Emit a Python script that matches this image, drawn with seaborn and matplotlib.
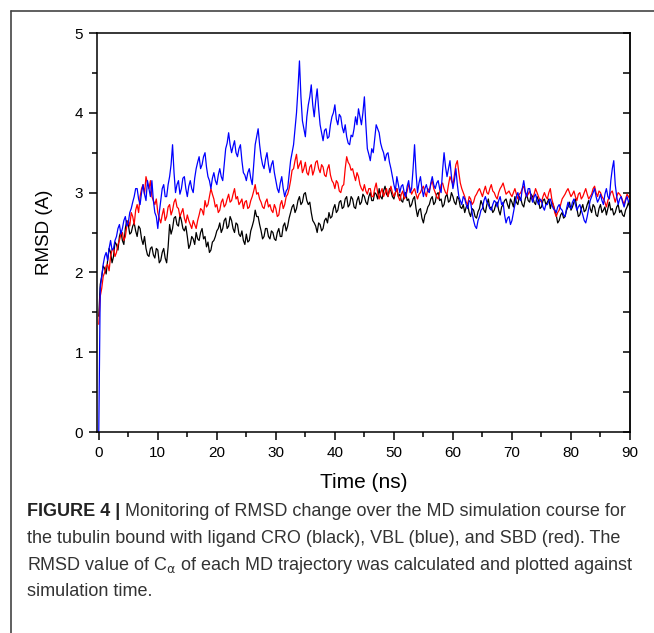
import numpy as np
import pandas as pd
import matplotlib
matplotlib.use('Agg')
import matplotlib.pyplot as plt
from matplotlib.lines import Line2D
from matplotlib.ticker import MultipleLocator
import seaborn as sns

# Tiempo de simulación (ns), un valor cada 0.25 ns
time_ns = np.linspace(0, 90, 361)

# RMSD (A) (filas de 5 ns)
rmsd_cro = [
    1.45, 1.85, 1.95, 2.08, 2.05, 1.98, 2.15, 2.30, 2.25, 2.12, 2.20, 2.38, 2.35, 2.28, 2.45, 2.52, 2.40, 2.35, 2.55, 2.65,
    2.60, 2.48, 2.50, 2.58, 2.62, 2.52, 2.45, 2.58, 2.55, 2.42, 2.35, 2.45, 2.30, 2.22, 2.20, 2.30, 2.32, 2.22, 2.18, 2.30,
    2.28, 2.12, 2.15, 2.25, 2.30, 2.18, 2.12, 2.32, 2.60, 2.48, 2.55, 2.68, 2.70, 2.60, 2.58, 2.72, 2.65, 2.55, 2.52, 2.58,
    2.45, 2.30, 2.35, 2.45, 2.42, 2.35, 2.50, 2.42, 2.40, 2.50, 2.55, 2.42, 2.45, 2.32, 2.38, 2.25, 2.28, 2.38, 2.40, 2.45,
    2.52, 2.55, 2.62, 2.50, 2.55, 2.65, 2.68, 2.55, 2.58, 2.70, 2.65, 2.55, 2.50, 2.62, 2.60, 2.48, 2.45, 2.52, 2.40, 2.35,
    2.48, 2.38, 2.40, 2.52, 2.58, 2.65, 2.78, 2.70, 2.70, 2.60, 2.52, 2.42, 2.45, 2.55, 2.55, 2.45, 2.42, 2.52, 2.50, 2.42,
    2.40, 2.50, 2.55, 2.45, 2.45, 2.58, 2.62, 2.52, 2.58, 2.68, 2.75, 2.82, 2.85, 2.75, 2.80, 2.90, 2.95, 2.85, 2.88, 2.98,
    3.00, 2.90, 2.85, 2.88, 2.75, 2.65, 2.62, 2.58, 2.50, 2.62, 2.60, 2.52, 2.55, 2.65, 2.68, 2.62, 2.75, 2.68, 2.70, 2.80,
    2.85, 2.75, 2.78, 2.88, 2.90, 2.80, 2.82, 2.92, 2.95, 2.82, 2.85, 2.95, 2.92, 2.82, 2.80, 2.90, 2.95, 2.85, 2.88, 2.98,
    2.95, 2.88, 2.85, 2.95, 3.00, 2.90, 2.90, 3.00, 2.98, 2.92, 3.05, 2.95, 2.92, 3.02, 3.08, 2.98, 2.95, 3.05, 3.02, 2.95,
    2.92, 3.00, 3.05, 2.95, 2.98, 2.90, 2.88, 2.98, 3.00, 2.90, 2.92, 2.82, 2.85, 2.92, 2.95, 2.80, 2.70, 2.78, 2.80, 2.68,
    2.62, 2.72, 2.75, 2.82, 2.85, 2.92, 2.95, 2.85, 2.88, 2.98, 3.00, 2.90, 2.92, 2.82, 2.85, 2.95, 2.98, 2.88, 2.90, 3.00,
    2.95, 2.88, 2.85, 2.95, 2.92, 2.82, 2.80, 2.85, 2.75, 2.82, 2.85, 2.75, 2.70, 2.80, 2.78, 2.70, 2.68, 2.76, 2.80, 2.90,
    2.85, 2.78, 2.75, 2.85, 2.92, 2.80, 2.82, 2.75, 2.78, 2.85, 2.88, 2.78, 2.72, 2.82, 2.85, 2.90, 2.92, 2.85, 2.80, 2.92,
    2.88, 2.82, 2.95, 2.88, 2.85, 2.95, 2.92, 2.85, 2.82, 2.92, 2.98, 2.90, 2.88, 2.98, 2.95, 2.88, 2.85, 2.95, 2.90, 2.80,
    2.82, 2.90, 2.92, 2.85, 2.88, 2.92, 2.80, 2.88, 2.85, 2.78, 2.72, 2.62, 2.65, 2.72, 2.75, 2.68, 2.70, 2.78, 2.82, 2.88,
    2.78, 2.82, 2.88, 2.92, 2.80, 2.70, 2.72, 2.80, 2.85, 2.76, 2.78, 2.85, 2.90, 2.80, 2.75, 2.85, 2.82, 2.72, 2.70, 2.80,
    2.85, 2.75, 2.78, 2.82, 2.72, 2.80, 2.88, 2.78, 2.80, 2.72, 2.75, 2.82, 2.85, 2.75, 2.78, 2.72, 2.70, 2.78, 2.82, 2.88,
    2.80,
]

rmsd_sbd = [
    1.35, 1.70, 1.80, 1.95, 2.00, 2.08, 2.10, 2.02, 2.20, 2.28, 2.30, 2.20, 2.25, 2.35, 2.40, 2.48, 2.50, 2.40, 2.45, 2.58,
    2.65, 2.58, 2.75, 2.70, 2.60, 2.78, 2.85, 2.75, 2.95, 3.05, 3.10, 2.98, 3.20, 3.12, 3.05, 3.15, 2.95, 2.90, 2.85, 2.92,
    2.75, 2.68, 2.62, 2.72, 2.80, 2.65, 2.70, 2.82, 2.85, 2.72, 2.78, 2.88, 2.92, 2.82, 2.80, 2.70, 2.75, 2.80, 2.68, 2.62,
    2.72, 2.65, 2.60, 2.55, 2.65, 2.60, 2.55, 2.65, 2.72, 2.80, 2.78, 2.72, 2.90, 2.82, 2.85, 2.95, 3.05, 2.98, 2.92, 2.82,
    2.85, 2.75, 2.78, 2.88, 2.92, 2.82, 2.85, 2.92, 2.98, 2.88, 2.90, 2.98, 3.05, 2.92, 2.95, 2.85, 2.88, 2.92, 2.80, 2.88,
    2.90, 2.80, 2.82, 2.90, 2.95, 3.02, 3.10, 2.98, 3.00, 2.92, 2.88, 2.82, 2.80, 2.88, 2.92, 2.82, 2.85, 2.78, 2.75, 2.85,
    2.80, 2.70, 2.72, 2.85, 2.90, 2.80, 2.85, 2.95, 2.98, 3.05, 3.15, 3.28, 3.30, 3.40, 3.48, 3.30, 3.35, 3.40, 3.25, 3.30,
    3.38, 3.25, 3.22, 3.32, 3.35, 3.22, 3.28, 3.38, 3.40, 3.30, 3.25, 3.35, 3.32, 3.22, 3.20, 3.30, 3.35, 3.22, 3.15, 3.12,
    3.05, 3.15, 3.12, 3.02, 3.00, 3.08, 3.10, 3.30, 3.45, 3.38, 3.35, 3.28, 3.30, 3.22, 3.15, 3.25, 3.20, 3.10, 3.05, 3.02,
    3.10, 3.02, 2.98, 3.05, 3.05, 2.95, 2.95, 3.05, 3.12, 3.00, 2.92, 3.00, 3.05, 2.95, 3.00, 3.05, 2.95, 3.02, 3.08, 3.00,
    2.95, 3.00, 3.05, 2.95, 2.90, 2.98, 3.02, 2.92, 2.95, 3.02, 3.10, 3.05, 2.98, 3.02, 3.05, 2.98, 2.92, 2.98, 3.00, 3.05,
    3.08, 3.00, 2.95, 3.05, 3.02, 3.10, 3.15, 3.05, 3.00, 2.95, 2.92, 3.00, 3.10, 3.12, 3.05, 3.00, 2.98, 3.10, 3.20, 3.15,
    3.10, 3.22, 3.35, 3.40, 3.25, 3.12, 3.05, 3.00, 2.95, 2.88, 2.85, 2.95, 2.92, 2.85, 2.88, 2.95, 2.98, 3.02, 3.05, 3.00,
    2.95, 3.02, 3.08, 3.00, 2.98, 3.05, 3.10, 3.02, 3.00, 2.95, 2.92, 3.00, 3.05, 3.08, 3.12, 3.05, 2.98, 3.00, 3.02, 2.98,
    2.95, 3.00, 3.05, 2.98, 2.92, 2.98, 3.00, 3.05, 3.08, 3.00, 2.95, 2.98, 3.02, 2.95, 2.90, 2.98, 3.05, 3.00, 2.95, 2.90,
    2.88, 2.95, 3.00, 2.95, 2.92, 3.00, 3.05, 2.92, 2.85, 2.75, 2.70, 2.75, 2.78, 2.85, 2.92, 2.95, 2.98, 3.02, 3.05, 3.00,
    2.95, 2.98, 3.02, 2.95, 2.90, 2.98, 3.00, 2.92, 2.95, 3.00, 3.05, 2.98, 2.92, 2.95, 2.98, 3.05, 3.08, 3.00, 2.95, 3.02,
    3.00, 2.95, 2.92, 2.88, 2.82, 2.90, 2.95, 3.00, 3.02, 2.95, 2.88, 2.95, 3.00, 2.98, 2.95, 2.90, 2.85, 2.92, 2.98, 2.95,
    2.92,
]

rmsd_vbl = [
    0.00, 1.80, 1.95, 2.10, 2.20, 2.25, 2.15, 2.30, 2.40, 2.28, 2.30, 2.40, 2.45, 2.55, 2.60, 2.48, 2.55, 2.65, 2.70, 2.58,
    2.62, 2.75, 2.80, 2.88, 2.95, 3.05, 3.05, 2.92, 2.85, 3.00, 3.10, 2.98, 2.90, 3.15, 3.05, 2.95, 3.15, 2.90, 2.75, 2.70,
    2.55, 2.75, 2.90, 3.05, 3.10, 2.95, 2.95, 3.10, 3.20, 3.35, 3.60, 3.25, 3.00, 3.10, 3.15, 2.98, 3.05, 3.18, 3.20, 3.05,
    2.95, 3.08, 3.15, 3.05, 3.00, 3.18, 3.30, 3.38, 3.45, 3.30, 3.35, 3.45, 3.50, 3.32, 3.20, 3.15, 3.05, 3.18, 3.25, 3.15,
    3.10, 3.22, 3.30, 3.20, 3.15, 3.35, 3.55, 3.62, 3.75, 3.60, 3.50, 3.58, 3.65, 3.50, 3.45, 3.55, 3.60, 3.40, 3.25, 3.22,
    3.15, 3.25, 3.30, 3.18, 3.10, 3.35, 3.60, 3.70, 3.80, 3.60, 3.45, 3.35, 3.30, 3.42, 3.50, 3.35, 3.25, 3.35, 3.40, 3.25,
    3.15, 3.05, 3.00, 3.12, 3.20, 3.05, 2.95, 3.02, 3.05, 3.22, 3.40, 3.50, 3.60, 3.80, 4.00, 4.30, 4.65, 4.20, 3.90, 3.80,
    3.70, 3.95, 4.10, 4.20, 4.35, 4.10, 3.95, 4.15, 4.30, 4.05, 3.85, 3.75, 3.65, 3.78, 3.80, 3.68, 3.70, 3.85, 3.95, 4.00,
    4.10, 3.92, 3.85, 3.98, 3.95, 3.82, 3.75, 3.85, 3.70, 3.62, 3.60, 3.72, 3.70, 3.80, 3.95, 3.85, 4.05, 3.95, 3.85, 4.00,
    4.20, 3.85, 3.55, 3.48, 3.40, 3.55, 3.50, 3.68, 3.85, 3.80, 3.75, 3.62, 3.55, 3.50, 3.40, 3.48, 3.50, 3.38, 3.30, 3.20,
    3.10, 3.02, 3.20, 3.10, 3.00, 3.08, 3.10, 3.00, 2.95, 3.08, 3.15, 3.00, 3.05, 3.30, 3.60, 3.25, 3.00, 3.12, 3.20, 3.05,
    2.95, 3.05, 3.10, 3.02, 3.00, 3.12, 3.20, 3.10, 3.05, 3.12, 3.15, 3.05, 3.00, 3.28, 3.50, 3.32, 3.20, 3.30, 3.40, 3.20,
    3.05, 3.15, 3.30, 3.10, 2.95, 2.90, 2.85, 2.95, 2.92, 2.85, 2.80, 2.90, 2.88, 2.75, 2.65, 2.58, 2.55, 2.65, 2.70, 2.78,
    2.80, 2.90, 2.95, 2.88, 2.85, 2.80, 2.78, 2.85, 2.90, 2.88, 2.82, 2.90, 2.95, 2.85, 2.88, 2.72, 2.62, 2.68, 2.70, 2.60,
    2.65, 2.75, 2.85, 2.95, 3.00, 2.92, 2.90, 3.05, 3.15, 3.02, 2.95, 3.05, 3.05, 2.95, 2.88, 2.95, 2.98, 2.90, 2.85, 2.92,
    2.90, 2.82, 2.78, 2.85, 2.85, 2.90, 2.92, 2.85, 2.80, 2.78, 2.75, 2.82, 2.85, 2.80, 2.78, 2.72, 2.70, 2.80, 2.88, 2.82,
    2.80, 2.88, 2.92, 2.85, 2.78, 2.82, 2.85, 2.78, 2.72, 2.65, 2.62, 2.70, 2.80, 2.90, 2.95, 3.00, 3.05, 2.95, 2.88, 2.92,
    2.98, 2.90, 2.85, 2.98, 3.05, 2.95, 2.92, 3.15, 3.30, 3.40, 3.10, 2.95, 2.85, 2.92, 2.95, 2.88, 2.82, 2.90, 2.95, 2.88,
    2.90,
]

ligandos = ['CRO', 'SBD', 'VBL']
colores = {'CRO': '#000000', 'SBD': '#ff0000', 'VBL': '#0000ff'}

df = pd.concat([
    pd.DataFrame({'time': time_ns, 'rmsd': rmsd_cro, 'ligand': 'CRO'}),
    pd.DataFrame({'time': time_ns, 'rmsd': rmsd_sbd, 'ligand': 'SBD'}),
    pd.DataFrame({'time': time_ns, 'rmsd': rmsd_vbl, 'ligand': 'VBL'}),
], ignore_index=True)

sns.set_theme(style="white")
plt.rcParams['font.family'] = ['Liberation Sans', 'DejaVu Sans']

W, H = 654, 633
fig = plt.figure(figsize=(W / 100, H / 100), dpi=100)
ax = fig.add_axes([97 / W, 1 - 432 / H, 533 / W, 399 / H])

sns.lineplot(data=df, x='time', y='rmsd', hue='ligand', hue_order=ligandos,
             palette=colores, estimator=None, linewidth=0.9, legend=False, ax=ax)

ax.set_xlim(-0.3, 90)
ax.set_ylim(0, 5)
ax.xaxis.set_major_locator(MultipleLocator(10))
ax.xaxis.set_minor_locator(MultipleLocator(5))
ax.yaxis.set_major_locator(MultipleLocator(1))
ax.yaxis.set_minor_locator(MultipleLocator(0.5))

for s in ax.spines.values():
    s.set_color('black')
    s.set_linewidth(1.1)

ax.tick_params(which='major', direction='out', length=6, width=1.1,
               color='black', labelsize=11, labelcolor='black', pad=4,
               bottom=True, left=True, top=False, right=False)
ax.tick_params(which='minor', direction='out', length=3.5, width=1.1,
               color='black', bottom=True, left=True, top=False, right=False)

# ticks hacia adentro en el eje derecho, sin etiquetas
der = ax.secondary_yaxis('right')
der.yaxis.set_major_locator(MultipleLocator(0.5))
der.tick_params(direction='in', length=5, width=1.1, color='black', labelright=False)
der.spines['right'].set_linewidth(1.1)

ax.set_xlabel('Time (ns)', fontsize=15, color='black')
ax.set_ylabel('RMSD (A)', fontsize=13.5, color='black')
ax.xaxis.set_label_coords(0.5, -0.102)
ax.yaxis.set_label_coords(-0.082, 0.5)

# marco de la figura (izquierda y arriba)
fig.add_artist(Line2D([10.5 / W, 10.5 / W], [0, 1 - 10.5 / H], transform=fig.transFigure,
                      color='#444444', linewidth=1.2))
fig.add_artist(Line2D([10.5 / W, 1], [1 - 10.5 / H, 1 - 10.5 / H], transform=fig.transFigure,
                      color='#444444', linewidth=1.2))

# pie de figura
cap_color = '#333333'
cap_size = 13
x0 = 27 / W
t_bold = fig.text(x0, 1 - 516 / H, 'FIGURE 4 |', fontsize=cap_size, fontweight='bold',
                  color='#222222', va='baseline', ha='left')
ax.annotate(' Monitoring of RMSD change over the MD simulation course for',
            xy=(1, 0), xycoords=t_bold, va='bottom', ha='left',
            fontsize=cap_size, color=cap_color, annotation_clip=False)
lineas = [
    'the tubulin bound with ligand CRO (black), VBL (blue), and SBD (red). The',
    r'RMSD value of C$_{\mathrm{\alpha}}$ of each MD trajectory was calculated and plotted against',
    'simulation time.',
]
for i, txt in enumerate(lineas):
    fig.text(x0, 1 - (543 + 26.5 * i) / H, txt, fontsize=cap_size, color=cap_color,
             va='baseline', ha='left')

fig.savefig('out.png', dpi=100)
plt.close(fig)
